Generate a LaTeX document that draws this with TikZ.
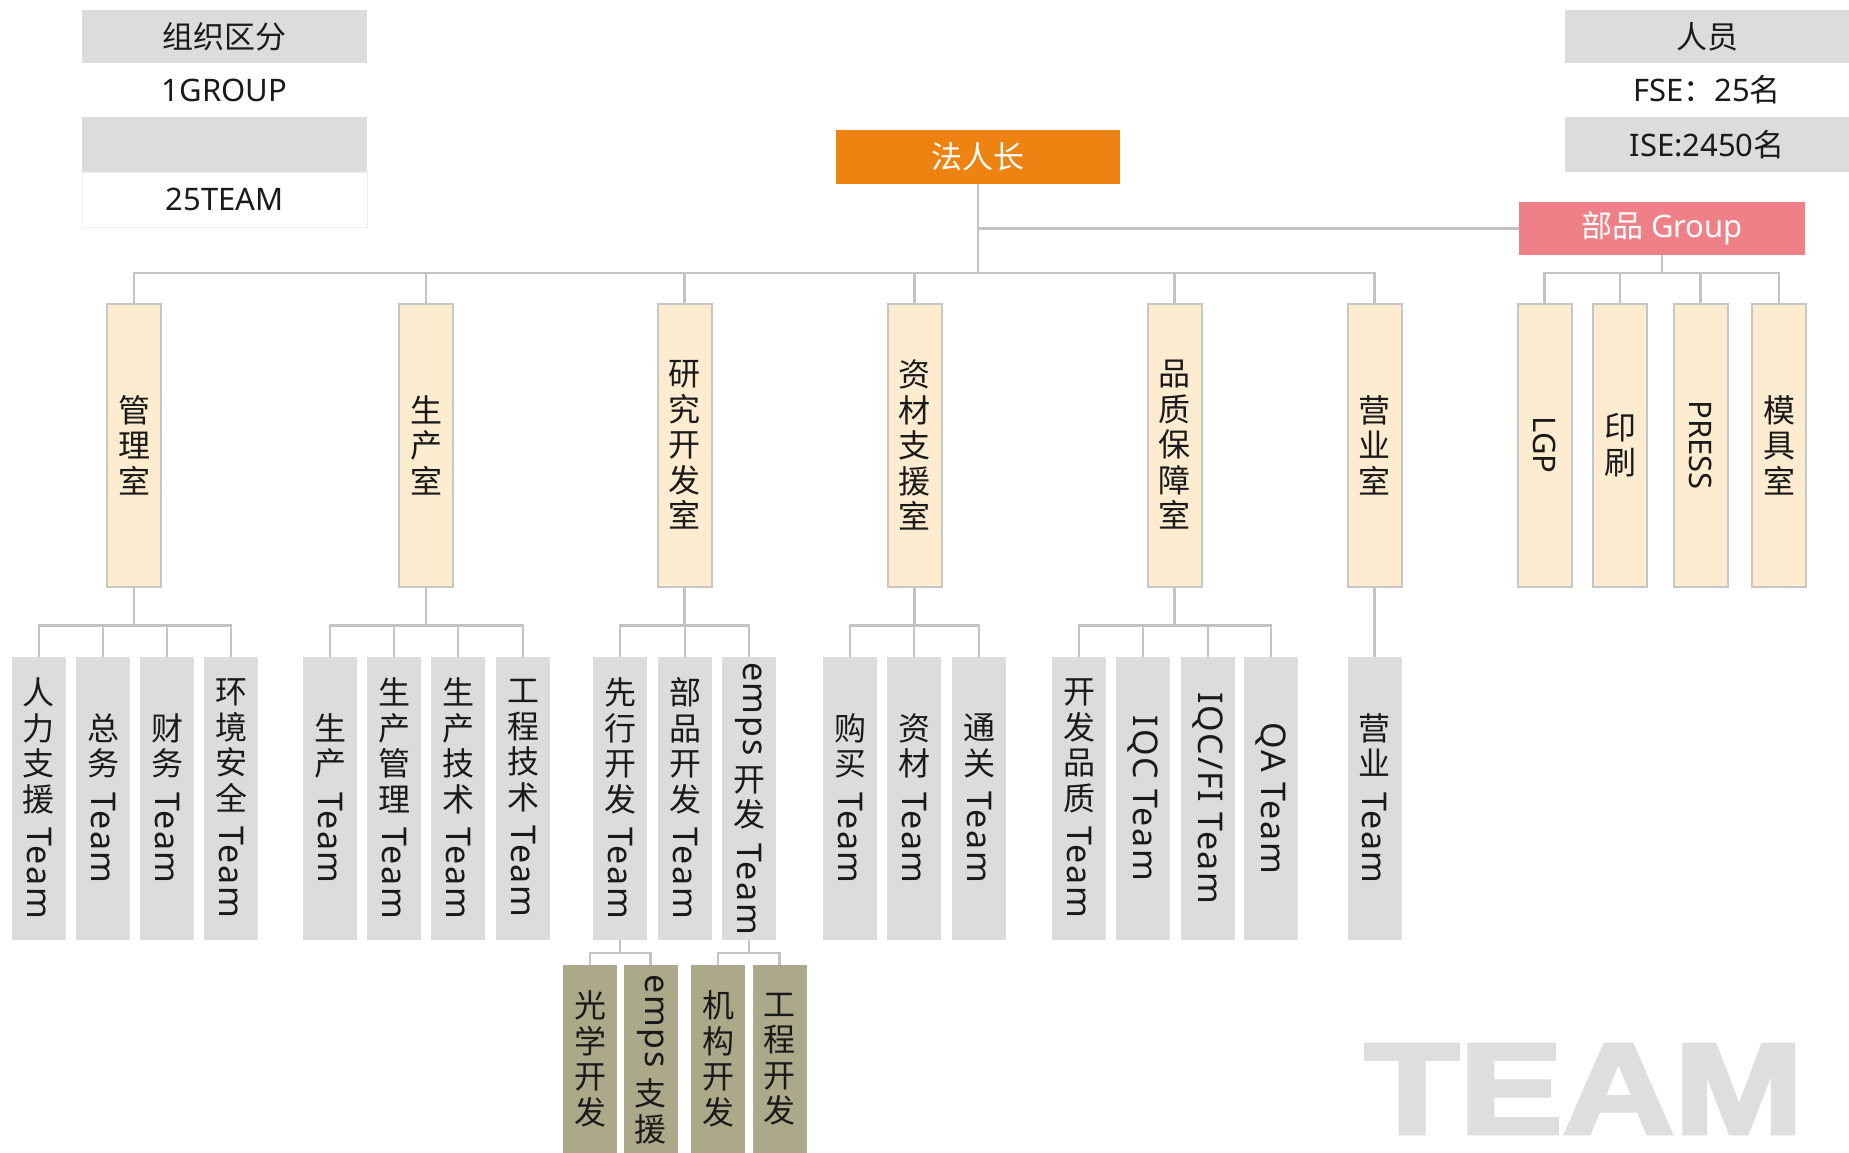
\documentclass[tikz,border=0pt]{standalone}
\usepackage{fontspec}
\usepackage{graphicx}
\setmainfont{Noto Sans}
\newfontfamily\cjk{Noto Sans CJK SC}
\newfontfamily\teamfont{Liberation Sans}[BoldFeatures={FakeBold=3}]
\definecolor{bossorange}{HTML}{EE8311}
\definecolor{grppink}{HTML}{EF8088}
\definecolor{deptfill}{HTML}{FDECCF}
\definecolor{deptborder}{HTML}{C6C6C6}
\definecolor{teamgray}{HTML}{DCDCDC}
\definecolor{subolive}{HTML}{ACA88A}
\definecolor{cellgray}{HTML}{DCDCDC}
\definecolor{linegray}{HTML}{C3C3C3}
\definecolor{wmark}{HTML}{DEDEDE}
\definecolor{txt}{HTML}{1A1A1A}
\newcommand\C[1]{{\cjk #1}}
\newcommand\RT[1]{\rotatebox{-90}{\normalfont\fontsize{34}{40}\selectfont\addfontfeature{LetterSpace=5}#1}}
\newcommand\RG[1]{\rotatebox{-90}{\normalfont\fontsize{31}{36}\selectfont #1}}
\tikzset{
  conn/.style={draw=linegray, line width=2.5pt},
  cellbox/.style={minimum width=285pt, inner sep=0pt, text=txt, font=\fontsize{31}{36}\selectfont},
  hdrbox/.style={minimum height=54pt, inner sep=0pt, text=white, font=\fontsize{31}{36}\selectfont},
  vlabel/.style={inner sep=0pt, align=center, text=txt, font=\cjk\fontsize{32}{35.5}\selectfont},
  deptbox/.style={vlabel, draw=deptborder, line width=2pt, fill=deptfill, minimum width=54pt, minimum height=283pt},
  teambox/.style={vlabel, fill=teamgray, minimum width=54pt, minimum height=283pt},
  subbox/.style={vlabel, fill=subolive, minimum width=54pt, minimum height=188pt}
}
\begin{document}
\begin{tikzpicture}[x=1pt,y=-1pt]
\fill[white] (0,0) rectangle (1849,1153);
\useasboundingbox (0,0) rectangle (1849,1153);

% watermark
\node[anchor=center, text=wmark, font=\teamfont\bfseries\fontsize{129}{132}\selectfont, xscale=1.2, inner sep=0pt] (wm) at (1584,1089) {TEAM};

% tables
\node[cellbox, fill=cellgray, minimum height=53pt] (lt1) at (224.5,36.5) {\C{组织区分}};
\node[cellbox, fill=white, minimum height=54pt] (lt2) at (224.5,90) {1GROUP};
\node[cellbox, fill=cellgray, minimum height=55pt] (lt3) at (224.5,144.5) {};
\node[cellbox, fill=white, draw=cellgray!40, minimum height=55pt] (lt4) at (224.5,199.5) {25TEAM};
\node[cellbox, fill=cellgray, minimum height=53pt, minimum width=284pt] (rt1) at (1707,36.5) {\C{人员}};
\node[cellbox, fill=white, minimum height=54pt, minimum width=284pt] (rt2) at (1707,90) {FSE\C{：}25\C{名}};
\node[cellbox, fill=cellgray, minimum height=55pt, minimum width=284pt] (rt3) at (1707,144.5) {ISE:2450\C{名}};

% top boxes
\node[hdrbox, fill=bossorange, minimum width=284pt] (boss) at (978,157) {\C{法人长}};
\node[hdrbox, fill=grppink, minimum width=286pt, minimum height=53pt] (pg) at (1662,228.5) {\C{部品} Group};

% departments
\node[deptbox] (d1) at (134,445) {管\\理\\室};
\node[deptbox] (d2) at (426,445) {生\\产\\室};
\node[deptbox] (d3) at (684.5,445) {研\\究\\开\\发\\室};
\node[deptbox] (d4) at (914.5,445) {资\\材\\支\\援\\室};
\node[deptbox] (d5) at (1174.5,445) {品\\质\\保\\障\\室};
\node[deptbox] (d6) at (1374.5,445) {营\\业\\室};
\node[deptbox] (g1) at (1544.5,445) {\RG{LGP}};
\node[deptbox] (g2) at (1620,445) {印\\刷};
\node[deptbox] (g3) at (1700.5,445) {\RG{PRESS}};
\node[deptbox] (g4) at (1779,445) {模\\具\\室};

% teams
\node[teambox] (t11) at (39,798.5) {人\\力\\支\\援\\[-19pt]\RT{Team}};
\node[teambox] (t12) at (103,798.5) {总\\务\\[-19pt]\RT{Team}};
\node[teambox] (t13) at (167,798.5) {财\\务\\[-19pt]\RT{Team}};
\node[teambox] (t14) at (231,798.5) {环\\境\\安\\全\\[-19pt]\RT{Team}};
\node[teambox] (t21) at (330,798.5) {生\\产\\[-19pt]\RT{Team}};
\node[teambox] (t22) at (394,798.5) {生\\产\\管\\理\\[-19pt]\RT{Team}};
\node[teambox] (t23) at (458,798.5) {生\\产\\技\\术\\[-19pt]\RT{Team}};
\node[teambox] (t24) at (523,798.5) {工\\程\\技\\术\\[-19pt]\RT{Team}};
\node[teambox] (t31) at (620,798.5) {先\\行\\开\\发\\[-19pt]\RT{Team}};
\node[teambox] (t32) at (685,798.5) {部\\品\\开\\发\\[-19pt]\RT{Team}};
\node[teambox] (t33) at (749,798.5) {\RT{emps}\\[10pt]开\\发\\[-19pt]\RT{Team}};
\node[teambox] (t41) at (850,798.5) {购\\买\\[-19pt]\RT{Team}};
\node[teambox] (t42) at (914,798.5) {资\\材\\[-19pt]\RT{Team}};
\node[teambox] (t43) at (979,798.5) {通\\关\\[-19pt]\RT{Team}};
\node[teambox] (t51) at (1079,798.5) {开\\发\\品\\质\\[-19pt]\RT{Team}};
\node[teambox] (t52) at (1143,798.5) {\RT{IQC Team}};
\node[teambox] (t53) at (1208,798.5) {\RT{IQC/FI Team}};
\node[teambox] (t54) at (1271,798.5) {\RT{QA Team}};
\node[teambox] (t61) at (1374.5,798.5) {营\\业\\[-19pt]\RT{Team}};

% sub teams
\node[subbox] (s1) at (590,1059) {光\\学\\开\\发};
\node[subbox] (s2) at (650.5,1059) {\RT{emps}\\[10pt]支\\援};
\node[subbox] (s3) at (718,1059) {机\\构\\开\\发};
\node[subbox] (s4) at (779.5,1059) {工\\程\\开\\发};

% connectors: top
\foreach \d in {d1,d2,d3,d4,d5,d6}
  \draw[conn] (boss.south) -- ++(0,89) -| (\d.north);
\draw[conn] (boss.south) |- (pg.west);
\foreach \g in {g1,g2,g3,g4}
  \draw[conn] (pg.south) -- ++(0,18) -| (\g.north);

% connectors: departments to teams
\foreach \t in {t11,t12,t13,t14}
  \draw[conn] (d1.south) -- ++(0,38) -| (\t.north);
\foreach \t in {t21,t22,t23,t24}
  \draw[conn] (d2.south) -- ++(0,38) -| (\t.north);
\foreach \t in {t31,t32,t33}
  \draw[conn] (d3.south) -- ++(0,38) -| (\t.north);
\foreach \t in {t41,t42,t43}
  \draw[conn] (d4.south) -- ++(0,38) -| (\t.north);
\foreach \t in {t51,t52,t53,t54}
  \draw[conn] (d5.south) -- ++(0,38) -| (\t.north);
\draw[conn] (d6.south) -- (t61.north);

% connectors: teams to sub teams
\foreach \s in {s1,s2}
  \draw[conn] (t31.south) -- ++(0,13) -| (\s.north);
\foreach \s in {s3,s4}
  \draw[conn] (t33.south) -- ++(0,13) -| (\s.north);
\end{tikzpicture}
\end{document}
